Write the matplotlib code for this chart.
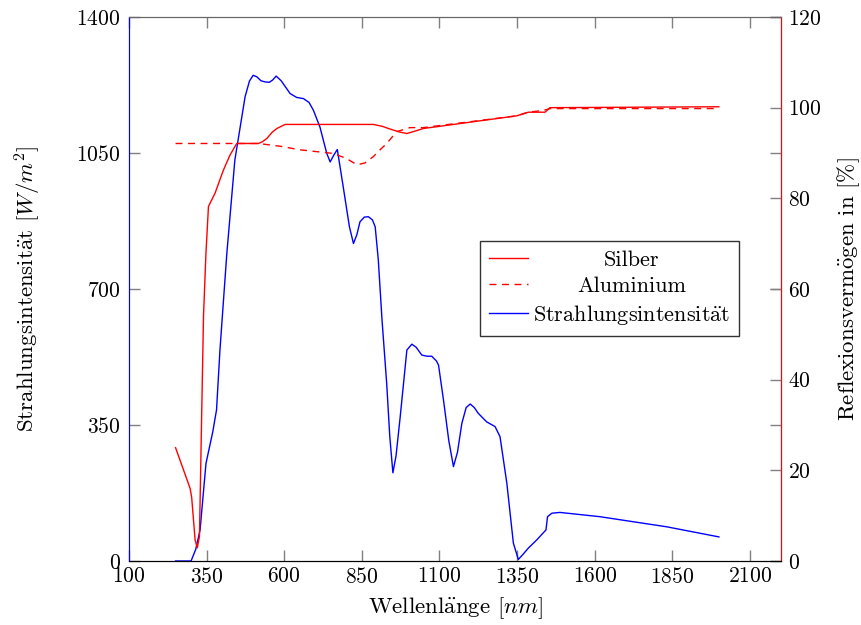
import matplotlib
matplotlib.use("Agg")
import matplotlib.pyplot as plt

# font setup: LaTeX-like look (cmr10 has no umlauts, so they go through mathtext)
plt.rcParams['font.family'] = ['cmr10', 'DejaVu Serif']
plt.rcParams['mathtext.fontset'] = 'cm'
plt.rcParams['axes.unicode_minus'] = False
plt.rcParams['axes.formatter.use_mathtext'] = True

AE = r'$\ddot{\mathrm{a}}$'
OE = r'$\ddot{\mathrm{o}}$'

# Strahlungsintensitaet (left axis, W/m^2)
wl_sun = [250, 300, 315, 329, 348, 370, 382, 393, 415, 441, 474, 488, 500, 512, 525, 538, 552,
          563, 574, 590, 619, 640, 662, 680, 694, 715, 737, 748, 760, 771, 790, 810, 823,
          834, 844, 858, 871, 884, 893, 903, 915, 930, 940, 950, 960, 973, 995, 1011,
          1025, 1043, 1060, 1075, 1090, 1097, 1113, 1130, 1145, 1158, 1172, 1186, 1199,
          1212, 1225, 1252, 1279, 1295, 1317, 1338, 1354, 1370, 1386, 1413, 1443, 1448,
          1462, 1488, 1617, 1832, 2000]
sun = [0, 0, 30, 80, 251, 333, 389, 543, 790, 1032, 1195, 1235, 1250, 1246, 1236, 1233, 1232,
       1238, 1248, 1236, 1203, 1193, 1190, 1180, 1160, 1117, 1049, 1027, 1045, 1059, 963, 860, 817,
       840, 873, 885, 886, 878, 860, 775, 620, 457, 320, 227, 270, 367, 543, 558,
       550, 530, 527, 527, 515, 504, 414, 310, 243, 280, 354, 395, 404,
       395, 380, 358, 346, 320, 200, 46, 4, 18, 33, 54, 80, 114,
       123, 125, 114, 88, 62]

# Reflexionsvermoegen Silber (right axis, %)
wl_ag = [250, 297, 302, 313, 320, 327, 334, 340, 348, 356, 366, 377, 404, 425, 447,
         517, 530, 544, 560, 576, 603, 887, 915, 940, 973, 995, 1020, 1048, 1349, 1386,
         1440, 1456, 2000]
ag = [25, 16, 14, 4.6, 2.9, 5.4, 31.8, 54, 68, 78.2, 79.6, 81.1, 86.2, 89.5, 92.1,
      92.1, 92.5, 93.2, 94.5, 95.4, 96.3, 96.3, 95.9, 95.3, 94.6, 94.3, 94.8, 95.4, 98.2, 99.0,
      99.0, 100, 100.2]

# Reflexionsvermoegen Aluminium (right axis, %)
wl_al = [250, 517, 586, 651, 758, 800, 834, 860, 887, 910, 930, 962, 1005, 1048,
         1349, 1386, 1435, 1456, 2000]
al = [92.1, 92.1, 91.5, 90.7, 89.9, 88.8, 87.4, 87.8, 89.2, 90.8, 92.1, 94.7, 95.6, 95.6,
      98.2, 99.0, 99.4, 99.8, 99.8]

x_ticks = [100, 350, 600, 850, 1100, 1350, 1600, 1850, 2100]
left_ticks = [0, 350, 700, 1050, 1400]
right_ticks = [0, 20, 40, 60, 80, 100, 120]

FS_TICK = 15.5
FS_LAB = 16.5
FS_LEG = 16
tick_col = '0.5'

fig = plt.figure(figsize=(8.61, 6.25), dpi=100)
ax = fig.add_axes([0.1498, 0.1024, 0.7573, 0.8704])
ax2 = ax.twinx()

l_sun, = ax.plot(wl_sun, sun, color='#0000ff', lw=1.0)
l_ag, = ax2.plot(wl_ag, ag, color='#ff0000', lw=1.0)
l_al, = ax2.plot(wl_al, al, color='#ff0000', lw=1.0, ls=(0, (5, 4)))

ax.set_xlim(100, 2200)
ax.set_ylim(0, 1400)
ax2.set_ylim(0, 120)
ax.set_xticks(x_ticks)
ax.set_yticks(left_ticks)
ax2.set_yticks(right_ticks)

ax.tick_params(axis='x', direction='in', top=True, bottom=True, length=8, width=1,
               color=tick_col, labelsize=FS_TICK, pad=4)
ax.tick_params(axis='y', direction='in', left=True, right=True, length=8, width=1,
               color=tick_col, labelsize=FS_TICK, pad=6)
ax2.tick_params(axis='y', direction='in', length=8, width=1, color=tick_col,
                labelsize=FS_TICK, pad=5)

for a in (ax, ax2):
    a.spines['left'].set_color('#0000ff')
    a.spines['right'].set_color('#ff0000')
    a.spines['top'].set_color('0.4')
    a.spines['bottom'].set_color('black')

ax.set_xlabel('Wellenl' + AE + 'nge $[nm]$', fontsize=FS_LAB, labelpad=6)
ax.set_ylabel('Strahlungsintensit' + AE + 't $[W/m^2]$', fontsize=FS_LAB, labelpad=24)
ax2.set_ylabel('Reflexionsverm' + OE + 'gen in $[\\%]$', fontsize=FS_LAB, labelpad=10)

leg = ax2.legend([l_ag, l_al, l_sun],
                 ['Silber', 'Aluminium', 'Strahlungsintensit' + AE + 't'],
                 loc='upper left', bbox_to_anchor=(0.538, 0.588), borderaxespad=0,
                 fontsize=FS_LEG, fancybox=False, edgecolor='0.2', framealpha=1,
                 handlelength=1.75, handletextpad=0.22, labelspacing=0.3,
                 borderpad=0.42)
leg.get_frame().set_linewidth(1.0)

# center the legend texts like pgfplots does
fig.canvas.draw()
r = fig.canvas.get_renderer()
widths = [t.get_window_extent(r).width for t in leg.get_texts()]
for t, w in zip(leg.get_texts(), widths):
    t.set_x((max(widths) - w) / 2)

fig.savefig('out.png', dpi=100)
